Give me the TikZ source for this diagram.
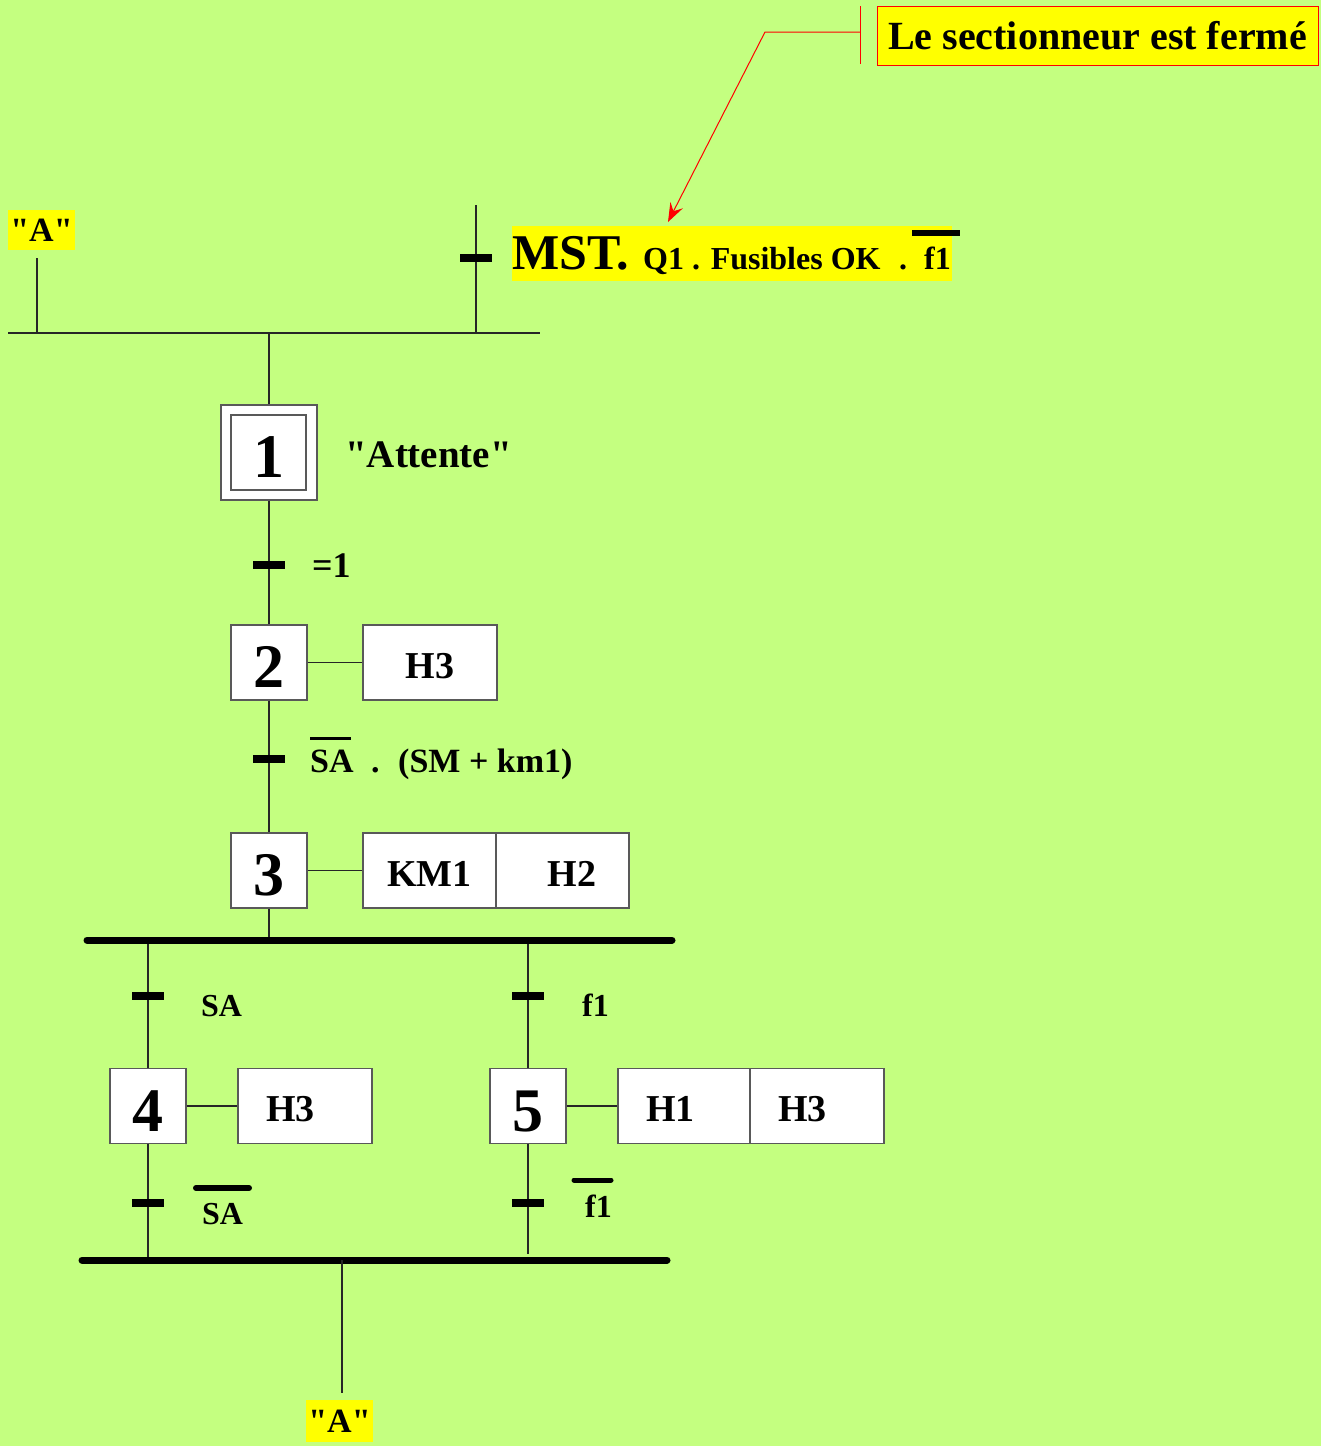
\documentclass[tikz,border=0pt]{standalone}
\usepackage{fontspec}
\setmainfont{Liberation Serif}[Ligatures=TeXOff]
\usetikzlibrary{arrows.meta}
\definecolor{grafbg}{RGB}{196,255,128}
\definecolor{hiyel}{RGB}{255,255,0}
\newcommand{\grafsize}[1]{\fontsize{#1}{#1}\selectfont\bfseries}
\begin{document}
\begin{tikzpicture}[x=1pt,y=-1pt,
  link/.style={draw=black!85, line width=1.2pt},
  stepbox/.style={draw=black!65, line width=1.2pt, fill=white, minimum width=76pt,
    minimum height=75pt, inner sep=0pt, text height=50pt, text depth=0pt,
    font=\grafsize{62}},
  actbox/.style={draw=black!65, line width=1.2pt, fill=white, minimum height=75pt,
    inner ysep=0pt, inner xsep=0pt, text height=31pt, text depth=0pt,
    font=\grafsize{38}},
  tbar/.style={fill=black, minimum width=32pt, minimum height=8pt, inner sep=0pt},
  rcpt/.style={anchor=base west, inner sep=0pt, font=\grafsize{#1}},
  rcpt/.default=32,
  hilite/.style={fill=hiyel, inner sep=0pt},
  bigbar/.style={line width=7pt, line cap=round},
  ovl/.style={line width=#1, line cap=round},
]
% background and page frame
\fill[grafbg] (0,0) rectangle (1321,1446);
\useasboundingbox (0,0) rectangle (1321,1446);

% ---------- note about the disconnector ----------
\node[hilite, draw=red, line width=1pt, minimum width=441pt, minimum height=59pt,
      font=\grafsize{40}] (note) at (1097.5,35.5) {Le sectionneur est fermé};
\coordinate (nt) at (860,6);
\coordinate (nb) at (860,64);
\coordinate (nm) at (860,32);
\coordinate (nk) at (765,32);
\coordinate (ne) at (668,222);
\draw[red, line width=1pt] (nt) -- (nb);
\draw[red, line width=1pt, -{Stealth[length=19pt,width=14pt,inset=7pt]}] (nm) -- (nk) -- (ne);

% ---------- initial receptivity ----------
\node[hilite, minimum width=440pt, minimum height=55pt] (cond0) at (732,253.5) {};
\node[rcpt=50] (mst) at (512,269) {MST.};
\node[rcpt=32] (mstq) at (643,269) {Q1 . Fusibles OK};
\node[rcpt=32] (mstd) at (899,269) {.};
\node[rcpt=32] (mstf) at (924,269) {f1};
\draw[line width=6pt] (912,233) -- (960,233);

% entry from "A"
\node[hilite, minimum width=67pt, minimum height=40pt, font=\grafsize{34}] (Atop) at (41.5,230) {"A"};
\coordinate (hL0) at (8,333);
\coordinate (hR) at (540,333);
\coordinate (hA) at (37,333);
\coordinate (hM) at (269,333);
\coordinate (mTop) at (476,205);
\coordinate (mBot) at (476,333);
\draw[link] (hL0) -- (hR);
\draw[link, shorten <=8pt] (Atop.south -| hA) -- (hA);
\draw[link] (mTop) -- (mBot);
\node[tbar] (t0) at (476,258) {};

% ---------- steps ----------
\node[stepbox, minimum width=96pt, minimum height=95pt] (s1o) at (269,452.5) {};
\node[stepbox, minimum width=75pt, minimum height=75pt] (s1) at (268.5,452.5) {1};
\node[rcpt=39] (att) at (345,467) {"Attente"};
\node[stepbox] (s2) at (269,662.5) {2};
\node[stepbox] (s3) at (269,870.5) {3};
\node[stepbox] (s4) at (148,1106) {4};
\node[stepbox] (s5) at (528,1106) {5};

% actions
\node[actbox, minimum width=134pt] (a2) at (430,662.5) {H3};
\node[actbox, minimum width=133pt] (a3k) at (429.5,870.5) {KM1};
\node[actbox, text width=67pt, inner xsep=33pt, align=right] (a3h) at (562.5,870.5) {H2};
\node[actbox, text width=78pt, inner xsep=28pt, align=left] (a4) at (305,1106) {H3};
\node[actbox, text width=76pt, inner xsep=28pt, align=left] (a5a) at (684,1106) {H1};
\node[actbox, text width=78pt, inner xsep=28pt, align=left] (a5b) at (817,1106) {H3};

% ---------- links ----------
\draw[link] (hM) -- (s1o);
\draw[link] (s1o) -- (s2);
\draw[link] (s2) -- (s3);
\draw[link] (s2) -- (a2);
\draw[link] (s3) -- (a3k);
\draw[link] (s4) -- (a4);
\draw[link] (s5) -- (a5a);

\coordinate (dM) at (269,940);
\coordinate (dL) at (148,940);
\coordinate (dR) at (528,940);
\coordinate (dLe) at (87,940);
\coordinate (dRe) at (672,940);
\coordinate (cL) at (148,1260);
\coordinate (cR) at (528,1254);
\coordinate (cM) at (342,1260);
\coordinate (cLe) at (82,1260);
\coordinate (cRe) at (667,1260);

\draw[link] (s3) -- (dM);
\draw[link] (dL) -- (s4);
\draw[link] (dR) -- (s5);
\draw[link] (s4) -- (cL);
\draw[link] (s5) -- (cR);
\draw[bigbar] (dLe) -- (dRe);
\draw[bigbar] (cLe) -- (cRe);

\node[hilite, minimum width=67pt, minimum height=42pt, font=\grafsize{34}] (Abot) at (339.5,1421) {"A"};
\draw[link, shorten >=7pt] (cM) -- (cM |- Abot.north);

% ---------- transitions ----------
\node[tbar] (t1) at (269,565) {};
\node[rcpt=36] (r1) at (312,577) {=1};

\node[tbar] (t2) at (269,759) {};
\node[rcpt=34] (r2a) at (310,772) {SA};
\node[rcpt=34] (r2b) at (371,772) {.};
\node[rcpt=34] (r2c) at (398,772) {(SM + km1)};
\draw[line width=3pt] (310,738) -- (351,738);

\node[tbar] (t4) at (148,996) {};
\node[rcpt] (r4) at (201,1016) {SA};
\node[tbar] (t5) at (528,996) {};
\node[rcpt] (r5) at (582,1016) {f1};

\node[tbar] (t6) at (148,1203) {};
\node[rcpt] (r6) at (202,1224) {SA};
\draw[ovl=6pt] (196,1188) -- (249,1188);
\node[tbar] (t7) at (528,1203) {};
\node[rcpt] (r7) at (585,1217) {f1};
\draw[ovl=5pt] (574,1180) -- (611,1180);
\end{tikzpicture}
\end{document}
